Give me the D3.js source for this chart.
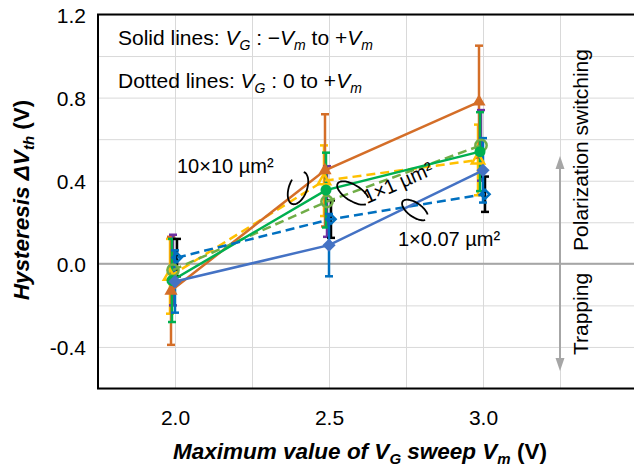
<!DOCTYPE html>
<html><head><meta charset="utf-8">
<script src="https://cdn.jsdelivr.net/npm/d3@7"></script>
<style>
body{margin:0;background:#fff;}
svg{display:block;font-family:"Liberation Sans",Arial,sans-serif;}
</style>
</head><body>
<svg id="c" width="634" height="466"></svg>
<script>
// ---------------- DATA ----------------
const xValues = [2.0, 2.5, 3.0];
const xTickLabels = [2.0, 2.5, 3.0];
const yTickLabels = [-0.4, 0.0, 0.4, 0.8, 1.2];

// Solid lines: VG : -Vm to +Vm
const solid10x10 = [-0.13, 0.45, 0.78];
const solid10x10Err = [0.26, 0.27, 0.27];
const solid1x1 = [-0.08, 0.355, 0.54];
const solid1x1Err = [0.20, 0.18, 0.19];
const solid1x007 = [-0.085, 0.09, 0.45];
const solid1x007Err = [0.15, 0.15, 0.155];

// Dotted lines: VG : 0 to +Vm
const dot10x10 = [-0.06, 0.40, 0.50];
const dot10x10Err = [0.18, 0.17, 0.17];
const dot1x1 = [-0.03, 0.30, 0.57];
const dot1x1Err = [0.17, 0.17, 0.17];
const dot1x007 = [0.03, 0.215, 0.335];
const dot1x007Err = [0.09, 0.09, 0.085];

// ---------------- STYLE ----------------
const series = [
  {v: dot10x10,   e: dot10x10Err,   color:"#ffc000", err:"#ffc000", dash:"9,5", marker:"triangle", fill:false, dodge:-5},
  {v: solid10x10, e: solid10x10Err, color:"#d46e28", err:"#d46e28", dash:null,  marker:"triangle", fill:true,  dodge:-4},
  {v: dot1x1,     e: dot1x1Err,     color:"#70ad47", err:"#7030a0", dash:"9,5", marker:"circle",   fill:false, dodge:-2},
  {v: solid1x1,   e: solid1x1Err,   color:"#00b050", err:"#00b050", dash:null,  marker:"circle",   fill:true,  dodge:-3},
  {v: dot1x007,   e: dot1x007Err,   color:"#0070c0", err:"#000000", dash:"9,5", marker:"diamond",  fill:false, dodge:2},
  {v: solid1x007, e: solid1x007Err, color:"#4472c4", err:"#0070c0", dash:null,  marker:"diamond",  fill:true,  dodge:0}
];

const svg = d3.select("#c");
const x = d3.scaleLinear().domain([1.75, 3.5]).range([98, 637]);
const y = d3.scaleLinear().domain([-0.6, 1.2]).range([388.5, 14.5]);

// gridlines
const gridY = svg.append("g").attr("transform", `translate(${x(1.75)},0)`)
  .call(d3.axisLeft(y).tickValues(d3.range(-0.6, 1.21, 0.2)).tickSize(-(x(3.5) - x(1.75))).tickFormat(""));
gridY.select(".domain").remove();
gridY.selectAll("line").attr("stroke", "#d9d9d9").attr("stroke-width", 1);

const gridX = svg.append("g").attr("transform", `translate(0,${y(-0.6)})`)
  .call(d3.axisBottom(x).tickValues([2.0, 2.25, 2.5, 2.75, 3.0, 3.25]).tickSize(-(y(-0.6) - y(1.2))).tickFormat(""));
gridX.select(".domain").remove();
gridX.selectAll("line").attr("stroke", "#d9d9d9").attr("stroke-width", 1);

// zero line
svg.append("line").attr("x1", x(1.75)).attr("x2", x(3.5)).attr("y1", y(0)).attr("y2", y(0))
  .attr("stroke", "#a6a6a6").attr("stroke-width", 2);

// frame
svg.append("rect").attr("x", x(1.75)).attr("y", y(1.2)).attr("width", x(3.5) - x(1.75) + 10).attr("height", y(-0.6) - y(1.2))
  .attr("fill", "none").attr("stroke", "#000").attr("stroke-width", 2);

// axes labels
const fmt = d => d3.format(".1f")(d).replace("−", "-");
const ay = svg.append("g").attr("transform", `translate(86,0)`)
  .call(d3.axisLeft(y).tickValues(yTickLabels).tickSize(0).tickPadding(0).tickFormat(fmt));
ay.select(".domain").remove();
ay.selectAll("text").attr("font-size", 21).attr("fill", "#000").attr("font-family", "Liberation Sans, Arial, sans-serif").attr("dy", "0.36em");

const ax = svg.append("g").attr("transform", `translate(0,405)`)
  .call(d3.axisBottom(x).tickValues(xTickLabels).tickSize(0).tickPadding(0).tickFormat(fmt));
ax.select(".domain").remove();
ax.selectAll("text").attr("font-size", 21).attr("fill", "#000").attr("font-family", "Liberation Sans, Arial, sans-serif").attr("dy", "0.97em");

// rich text helper
function rich(sel, parts, subSize) {
  parts.forEach(p => {
    const t = sel.append("tspan").text(p.t);
    if (p.i) t.attr("font-style", "italic");
    if (p.sub) { t.attr("font-size", subSize).attr("dy", 5); }
    if (p.up) { t.attr("dy", -5); }
  });
}

// axis titles
const yt = svg.append("text").attr("transform", "translate(29,200) rotate(-90)")
  .attr("text-anchor", "middle").attr("font-size", 22.5).attr("font-weight", "bold");
rich(yt, [{t:"Hysteresis ΔV", i:true}, {t:"th", i:true, sub:true}, {t:" (V)", up:true}], 15);

const xt = svg.append("text").attr("x", 360).attr("y", 459)
  .attr("text-anchor", "middle").attr("font-size", 22.5).attr("font-weight", "bold");
rich(xt, [{t:"Maximum value of V", i:true}, {t:"G", i:true, sub:true}, {t:" sweep V", i:true, up:true},
          {t:"m", i:true, sub:true}, {t:" (V)", up:true}], 15);

// header annotations
const h1 = svg.append("text").attr("x", 118).attr("y", 45).attr("font-size", 21);
rich(h1, [{t:"Solid lines: "}, {t:"V", i:true}, {t:"G", i:true, sub:true}, {t:" : −", up:true}, {t:"V", i:true},
          {t:"m", i:true, sub:true}, {t:" to +", up:true}, {t:"V", i:true}, {t:"m", i:true, sub:true}], 14);
const h2 = svg.append("text").attr("x", 118).attr("y", 88).attr("font-size", 21);
rich(h2, [{t:"Dotted lines: "}, {t:"V", i:true}, {t:"G", i:true, sub:true}, {t:" : 0 to +", up:true}, {t:"V", i:true},
          {t:"m", i:true, sub:true}], 14);

// right side annotation arrow
const ac = "#a6a6a6";
const axp = x(3.25);
svg.append("line").attr("x1", axp).attr("x2", axp).attr("y1", 166).attr("y2", 361).attr("stroke", ac).attr("stroke-width", 2);
svg.append("path").attr("d", `M${axp},156 L${axp-4.5},169 L${axp+4.5},169 Z`).attr("fill", ac);
svg.append("path").attr("d", `M${axp},371 L${axp-4.5},358 L${axp+4.5},358 Z`).attr("fill", ac);
svg.append("text").attr("transform", "translate(588,150) rotate(-90)").attr("text-anchor", "middle")
  .attr("font-size", 21).text("Polarization switching");
svg.append("text").attr("transform", "translate(588,314) rotate(-90)").attr("text-anchor", "middle")
  .attr("font-size", 21).text("Trapping");

// ---------------- MARKS ----------------
const plot = svg.append("g");
// error bars
series.forEach(s => {
  const g = plot.append("g");
  s.v.forEach((v, i) => {
    const cx = x(xValues[i]) + s.dodge;
    const top = y(v + s.e[i]), bot = y(v - s.e[i]);
    g.append("line").attr("x1", cx).attr("x2", cx).attr("y1", top).attr("y2", bot).attr("stroke", s.err).attr("stroke-width", 2.5);
    [top, bot].forEach(yy => g.append("line").attr("x1", cx - 4).attr("x2", cx + 4).attr("y1", yy).attr("y2", yy)
      .attr("stroke", s.err).attr("stroke-width", 2.5));
  });
});
// lines
series.forEach(s => {
  const line = d3.line().x((d, i) => x(xValues[i]) + s.dodge).y(d => y(d));
  plot.append("path").datum(s.v).attr("d", line).attr("fill", "none").attr("stroke", s.color)
    .attr("stroke-width", 2.5).attr("stroke-dasharray", s.dash);
});
// markers
series.forEach(s => {
  let sym, rot = 0, size;
  if (s.marker === "triangle") { sym = d3.symbolTriangle; size = s.fill ? 75 : 65; }
  else if (s.marker === "circle") { sym = d3.symbolCircle; size = s.fill ? 95 : 100; }
  else { sym = d3.symbolSquare; rot = 45; size = s.fill ? 88 : 42; }
  plot.append("g").selectAll("path").data(s.v).join("path")
    .attr("d", d3.symbol(sym, size))
    .attr("transform", (d, i) => `translate(${x(xValues[i]) + s.dodge},${y(d)}) rotate(${rot})`)
    .attr("fill", s.fill ? s.color : "none")
    .attr("stroke", s.fill ? "none" : s.color)
    .attr("stroke-width", 2.5);
});

// ---------------- SIZE LABELS ----------------
svg.append("text").attr("x", 177).attr("y", 172.5).attr("font-size", 20).text("10×10 µm²");
svg.append("text").attr("x", 398).attr("y", 246).attr("font-size", 20).text("1×0.07 µm²");
svg.append("text").attr("transform", "translate(367,204) rotate(-24)").attr("font-size", 20).text("1×1 µm²");

function loop(cx, cy, a, b, angDeg, t0, t1) {
  const ang = angDeg * Math.PI / 180;
  const ux = Math.cos(ang), uy = Math.sin(ang);
  const vx = -uy, vy = ux;
  const pts = d3.range(t0, t1 + 1, 5).map(t => {
    const r = t * Math.PI / 180;
    return [cx + a * Math.cos(r) * ux + b * Math.sin(r) * vx, cy + a * Math.cos(r) * uy + b * Math.sin(r) * vy];
  });
  svg.append("path").attr("d", d3.line().curve(d3.curveBasis)(pts)).attr("fill", "none").attr("stroke", "#000").attr("stroke-width", 1.8);
}
loop(298, 188, 17, 9, -70, 0, 290);
loop(353, 193, 18, 8, 32, 20, 330);
loop(415, 210, 15, 7, 35, 20, 330);
</script>
</body></html>
